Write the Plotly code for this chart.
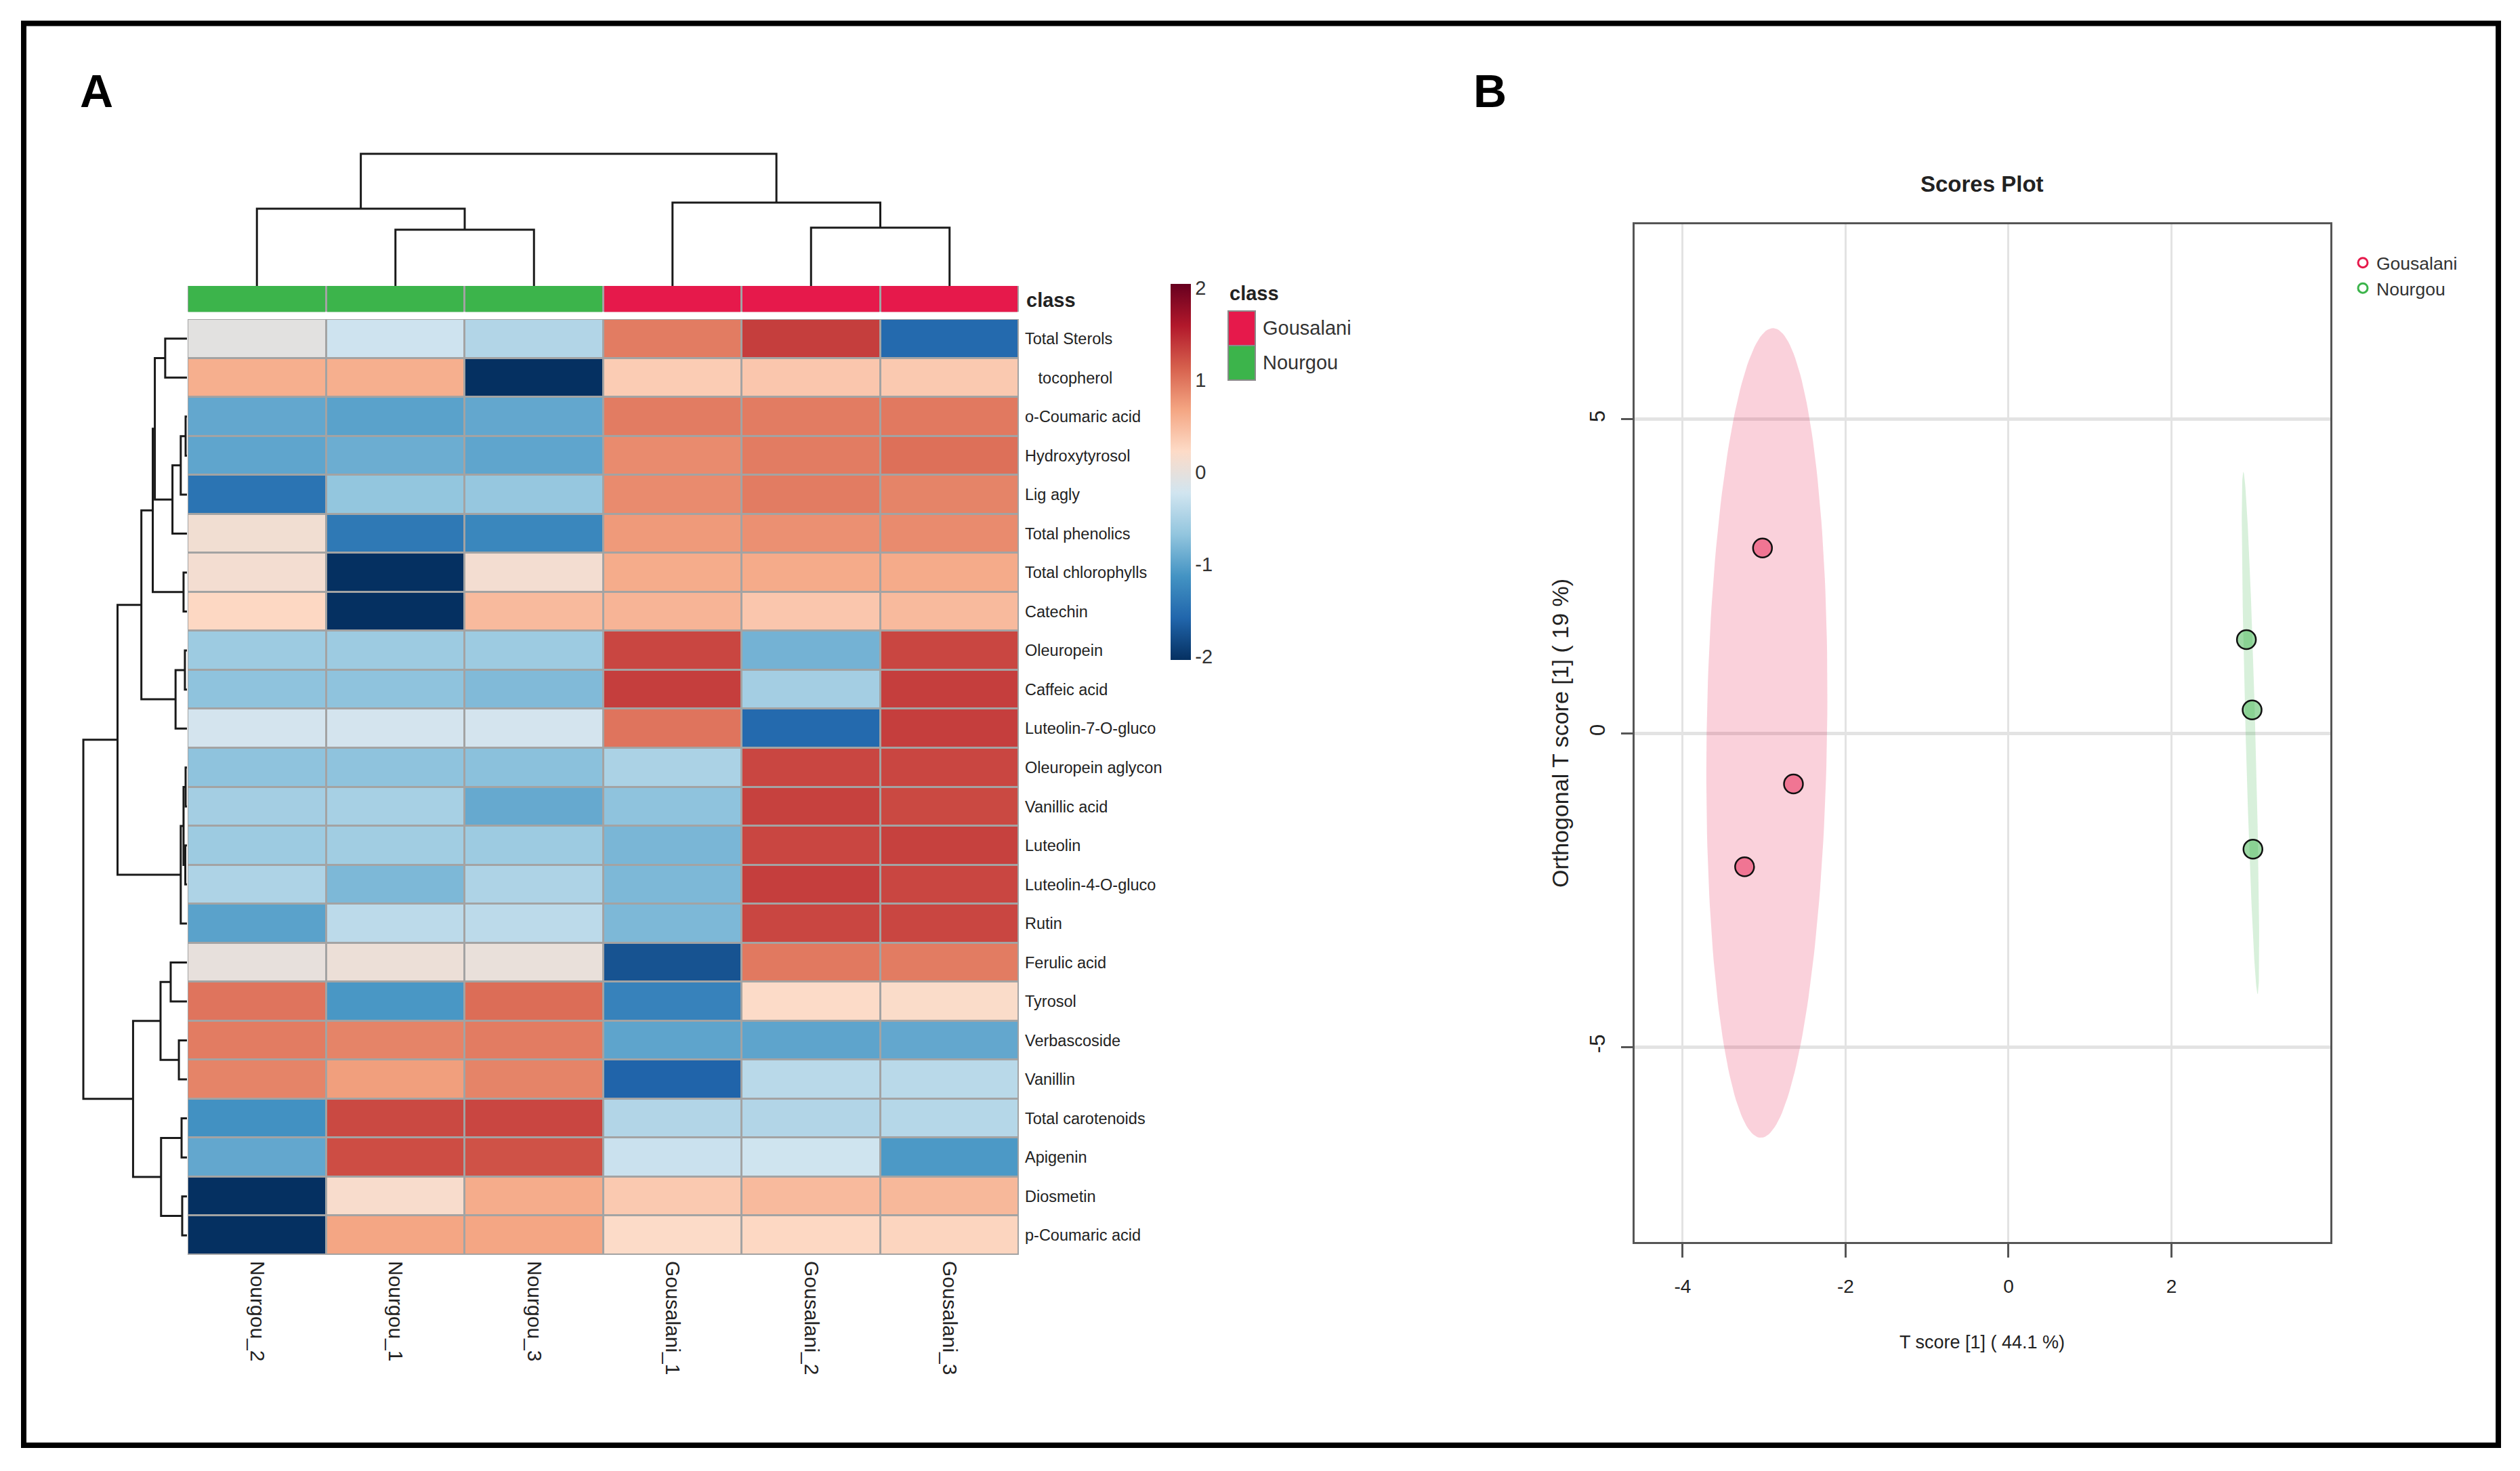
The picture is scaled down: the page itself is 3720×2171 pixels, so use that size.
import numpy as np
import plotly.graph_objects as go

W, H = 3720, 2171

def px(x):
    return x / W

def py(y):
    return 1 - y / H

# ---------------- data ----------------
samples = ["Nourgou_2", "Nourgou_1", "Nourgou_3", "Gousalani_1", "Gousalani_2", "Gousalani_3"]
sample_class = ["Nourgou", "Nourgou", "Nourgou", "Gousalani", "Gousalani", "Gousalani"]
class_names = ["Gousalani", "Nourgou"]
class_colors = {"Gousalani": "#E6194B", "Nourgou": "#3CB44B"}

features = [
    "Total Sterols", "\u00a0\u00a0\u00a0tocopherol", "o-Coumaric acid", "Hydroxytyrosol", "Lig agly",
    "Total phenolics", "Total chlorophylls", "Catechin", "Oleuropein", "Caffeic acid",
    "Luteolin-7-O-gluco", "Oleuropein aglycon", "Vanillic acid", "Luteolin", "Luteolin-4-O-gluco",
    "Rutin", "Ferulic acid", "Tyrosol", "Verbascoside", "Vanillin",
    "Total carotenoids", "Apigenin", "Diosmetin", "p-Coumaric acid",
]

# z-scores per sample (rows in feature order)
nourgou_2 = [-0.05, 0.60, -0.95, -0.97, -1.45, 0.10, 0.12, 0.25, -0.60, -0.70, -0.20, -0.70,
             -0.55, -0.60, -0.48, -1.00, 0.00, 1.00, 0.95, 0.90, -1.15, -0.95, -2.04, -2.04]
nourgou_1 = [-0.25, 0.60, -1.00, -0.90, -0.67, -1.40, -2.04, -2.04, -0.60, -0.70, -0.20, -0.70,
             -0.53, -0.57, -0.80, -0.38, 0.05, -1.10, 0.90, 0.72, 1.28, 1.25, 0.17, 0.67]
nourgou_3 = [-0.45, -2.04, -0.95, -0.97, -0.65, -1.25, 0.12, 0.50, -0.60, -0.78, -0.20, -0.72,
             -0.93, -0.60, -0.48, -0.38, 0.02, 1.05, 0.95, 0.90, 1.30, 1.22, 0.62, 0.67]
gousalani_1 = [0.95, 0.35, 0.95, 0.85, 0.85, 0.75, 0.62, 0.55, 1.30, 1.35, 1.00, -0.50,
               -0.70, -0.82, -0.80, -0.80, -1.75, -1.30, -0.98, -1.60, -0.45, -0.28, 0.38, 0.22]
gousalani_2 = [1.35, 0.40, 0.95, 0.95, 0.95, 0.82, 0.63, 0.40, -0.85, -0.55, -1.55, 1.30,
               1.33, 1.30, 1.35, 1.30, 0.97, 0.22, -0.98, -0.40, -0.45, -0.24, 0.50, 0.25]
gousalani_3 = [-1.55, 0.38, 0.97, 1.03, 0.90, 0.85, 0.63, 0.50, 1.30, 1.35, 1.35, 1.30,
               1.28, 1.33, 1.30, 1.30, 0.95, 0.20, -0.95, -0.40, -0.43, -1.08, 0.52, 0.28]

# hierarchical clustering (scipy-like merges: child a, child b, height)
col_merges = [(1, 2, 3.41), (0, 6, 4.68), (4, 5, 3.53), (3, 8, 5.05), (7, 9, 8.0)]
row_merges = [
    (2, 3, 0.13), (24, 4, 0.6), (25, 5, 1.4), (0, 1, 2.1), (27, 26, 3.1),
    (6, 7, 0.33), (28, 29, 3.3), (8, 9, 0.2), (31, 10, 1.1), (30, 32, 4.4),
    (11, 12, 0.13), (13, 14, 0.16), (34, 35, 0.33), (36, 15, 0.6), (33, 37, 6.7),
    (16, 17, 1.57), (18, 19, 0.78), (39, 40, 2.55), (20, 21, 0.52), (22, 23, 0.46),
    (42, 43, 2.5), (41, 44, 5.2), (38, 45, 10.0),
]

# OPLS-DA scores
gousalani_t = [-3.02, -2.64, -3.24]
gousalani_to = [2.95, -0.81, -2.13]
nourgou_t = [2.92, 2.99, 3.00]
nourgou_to = [1.49, 0.37, -1.85]

x_ticks = [-4, -2, 0, 2]
y_ticks = [-5, 0, 5]
cbar_ticks = [-2, -1, 0, 1, 2]

# ---------------- styles ----------------
FONT = "Liberation Sans, Arial, sans-serif"
TXT = "#222222"

RDBU10 = ["#67001F", "#B2182B", "#D6604D", "#F4A582", "#FDDBC7",
          "#D1E5F0", "#92C5DE", "#4393C3", "#2166AC", "#053061"][::-1]
colorscale = [[i / 9, c] for i, c in enumerate(RDBU10)]


def dendro_segments(n, merges):
    pos = {i: float(i) for i in range(n)}
    hgt = {i: 0.0 for i in range(n)}
    ps, hs = [], []
    for k, (a, b, h) in enumerate(merges):
        node = n + k
        pa, pb = pos[a], pos[b]
        ps += [pa, pa, pb, pb, None]
        hs += [hgt[a], h, h, hgt[b], None]
        pos[node] = (pa + pb) / 2
        hgt[node] = h
    return ps, hs


def ellipse_pts(xv, yv, n=200):
    xv, yv = np.asarray(xv), np.asarray(yv)
    cov = np.cov(np.vstack([xv, yv]))
    vals, vecs = np.linalg.eigh(cov)
    r = np.sqrt(5.991464547)  # chi-square 95%, 2 df
    t = np.linspace(0, 2 * np.pi, n)
    circ = np.vstack([np.cos(t), np.sin(t)])
    pts = vecs @ (np.sqrt(vals)[:, None] * r * circ)
    return pts[0] + xv.mean(), pts[1] + yv.mean()


def rgba(hexc, a):
    return f"rgba({int(hexc[1:3], 16)},{int(hexc[3:5], 16)},{int(hexc[5:7], 16)},{a})"


z = np.array([nourgou_2, nourgou_1, nourgou_3, gousalani_1, gousalani_2, gousalani_3]).T
class_code = [class_names.index(c) for c in sample_class]

fig = go.Figure()

# heatmap
fig.add_trace(go.Heatmap(
    z=z, x=list(range(len(samples))), y=list(range(len(features))),
    colorscale=colorscale, zmin=-2.04, zmax=2.04, xgap=3, ygap=3,
    xaxis="x", yaxis="y", hoverinfo="skip",
    colorbar=dict(x=px(1728), xanchor="left", y=py(696.5), yanchor="middle",
                  len=555 / H, lenmode="fraction", thickness=30, thicknessmode="pixels",
                  outlinewidth=0, xpad=0, ypad=0, tickvals=cbar_ticks,
                  ticktext=[str(v) for v in cbar_ticks], ticks="",
                  tickfont=dict(family=FONT, size=29, color="#333333")),
))

# class bar
fig.add_trace(go.Heatmap(
    z=[class_code], x=list(range(len(samples))), y=[0],
    colorscale=[[0, class_colors["Gousalani"]], [0.5, class_colors["Gousalani"]],
                [0.5, class_colors["Nourgou"]], [1, class_colors["Nourgou"]]],
    zmin=0, zmax=1, showscale=False, xgap=3, ygap=0,
    xaxis="x", yaxis="y2", hoverinfo="skip",
))

# column dendrogram
cp, ch = dendro_segments(len(samples), col_merges)
fig.add_trace(go.Scatter(x=cp, y=ch, mode="lines", line=dict(color="#1a1a1a", width=3),
                         xaxis="x", yaxis="y3", showlegend=False, hoverinfo="skip"))
# row dendrogram
rp, rh = dendro_segments(len(features), row_merges)
fig.add_trace(go.Scatter(x=rh, y=rp, mode="lines", line=dict(color="#1a1a1a", width=3),
                         xaxis="x2", yaxis="y", showlegend=False, hoverinfo="skip"))

# scores plot
groups = [("Gousalani", gousalani_t, gousalani_to), ("Nourgou", nourgou_t, nourgou_to)]
for name, xs, ys in groups:
    ex, ey = ellipse_pts(xs, ys)
    fig.add_trace(go.Scatter(x=ex, y=ey, mode="lines", fill="toself",
                             fillcolor=rgba(class_colors[name], 0.2), line=dict(width=0),
                             xaxis="x3", yaxis="y4", showlegend=False, hoverinfo="skip"))
for name, xs, ys in groups:
    fig.add_trace(go.Scatter(x=xs, y=ys, mode="markers",
                             marker=dict(size=28, color=rgba(class_colors[name], 0.5),
                                         line=dict(color="#111111", width=2.5)),
                             xaxis="x3", yaxis="y4", showlegend=False, hoverinfo="skip"))
for name in class_names:
    fig.add_trace(go.Scatter(x=[None], y=[None], mode="markers", name=name,
                             marker=dict(size=14, symbol="circle-open", color=class_colors[name],
                                         line=dict(width=3, color=class_colors[name])),
                             xaxis="x3", yaxis="y4", showlegend=True))

hidden = dict(visible=False, showgrid=False, zeroline=False, fixedrange=True)

layout = dict(
    width=W, height=H, margin=dict(l=0, r=0, t=0, b=0),
    paper_bgcolor="white", plot_bgcolor="white",
    showlegend=True,
    legend=dict(x=px(3468), y=py(364), xanchor="left", yanchor="top",
                font=dict(family=FONT, size=26.5, color="#333333"),
                bgcolor="rgba(0,0,0,0)", borderwidth=0, itemclick=False),
    xaxis=dict(domain=[px(277), px(1504)], range=[-0.5, 5.5], anchor="y",
               tickvals=list(range(len(samples))), ticktext=samples, tickangle=90,
               ticks="", showgrid=False, zeroline=False, showline=False,
               ticklabelstandoff=8,
               tickfont=dict(family=FONT, size=30, color=TXT)),
    yaxis=dict(domain=[py(1852), py(471)], range=[23.5, -0.5], anchor="x", side="right",
               tickvals=list(range(len(features))), ticktext=features,
               ticks="", showgrid=False, zeroline=False, showline=False,
               ticklabelstandoff=8,
               tickfont=dict(family=FONT, size=23.5, color=TXT)),
    yaxis2=dict(domain=[py(460.5), py(421.7)], range=[-0.5, 0.5], anchor="x", **hidden),
    yaxis3=dict(domain=[py(422), py(422 - 8.4 * 24.375)], range=[0, 8.4], anchor="x", **hidden),
    xaxis2=dict(domain=[px(276 - 10.5 * 15.3), px(276)], range=[10.5, 0], anchor="y", **hidden),
    xaxis3=dict(domain=[px(2413), px(3440)], range=[-4.59, 3.95], anchor="y4",
                showline=True, mirror=True, linecolor="#555555", linewidth=3,
                ticks="outside", ticklen=20, tickwidth=3, tickcolor="#555555",
                tickvals=x_ticks, ticktext=[str(v) for v in x_ticks],
                showgrid=True, gridcolor="#E3E3E3", gridwidth=3, zeroline=False,
                ticklabelstandoff=18,
                tickfont=dict(family=FONT, size=28, color=TXT)),
    yaxis4=dict(domain=[py(1833), py(331)], range=[-8.11, 8.11], anchor="x3",
                showline=True, mirror=True, linecolor="#555555", linewidth=3,
                ticks="outside", ticklen=17, tickwidth=3, tickcolor="#555555",
                tickvals=y_ticks, ticktext=[str(v) for v in y_ticks], tickangle=-90,
                showgrid=True, gridcolor="#E3E3E3", gridwidth=5, zeroline=False,
                ticklabelstandoff=12,
                tickfont=dict(family=FONT, size=31, color=TXT)),
)
fig.update_layout(**layout)

shapes = [
    # gray grid behind heatmap cells
    dict(type="rect", xref="x", yref="y", x0=-0.5, x1=5.5, y0=-0.5, y1=23.5,
         fillcolor="#A3A3A3", line=dict(width=0), layer="below"),
    dict(type="rect", xref="x", yref="y2", x0=-0.5, x1=5.5, y0=-0.5, y1=0.5,
         fillcolor="#A3A3A3", line=dict(width=0), layer="below"),
    # outer frame
    dict(type="rect", xref="paper", yref="paper", x0=px(35), x1=px(3688), y0=py(2133), y1=py(34.5),
         line=dict(color="black", width=8), fillcolor="rgba(0,0,0,0)"),
]
# class legend swatches
sw_top = 459
for i, name in enumerate(class_names):
    shapes.append(dict(type="rect", xref="paper", yref="paper",
                       x0=px(1813), x1=px(1853), y0=py(sw_top + 51 * (i + 1)), y1=py(sw_top + 51 * i),
                       fillcolor=class_colors[name], line=dict(color="#8A8A8A", width=2)))
fig.update_layout(shapes=shapes)

ann = [
    dict(text="<b>A</b>", x=px(142), y=py(134), font=dict(family=FONT, size=68, color="black")),
    dict(text="<b>B</b>", x=px(2199), y=py(134), font=dict(family=FONT, size=68, color="black")),
    dict(text="<b>class</b>", x=px(1513), y=py(443), xanchor="left",
         font=dict(family=FONT, size=29, color=TXT)),
    dict(text="<b>class</b>", x=px(1813), y=py(433), xanchor="left",
         font=dict(family=FONT, size=29, color=TXT)),
    dict(text="<b>Scores Plot</b>", x=px(2926), y=py(271),
         font=dict(family=FONT, size=33, color=TXT)),
    dict(text="T score [1] ( 44.1 %)", x=px(2926), y=py(1981),
         font=dict(family=FONT, size=27, color=TXT)),
    dict(text="Orthogonal T score [1] ( 19 %)", x=px(2303), y=py(1082), textangle=-90,
         font=dict(family=FONT, size=34, color=TXT)),
]
for i, name in enumerate(class_names):
    ann.append(dict(text=name, x=px(1862), y=py(sw_top + 51 * i + 25), xanchor="left",
                    font=dict(family=FONT, size=29, color="#333333")))
for a in ann:
    a.setdefault("xanchor", "center")
    a.update(xref="paper", yref="paper", showarrow=False, yanchor="middle")
fig.update_layout(annotations=ann)

fig.write_html("out.html", config={"displayModeBar": False},
               post_script="document.body.style.margin='0px';document.body.style.overflow='hidden';")
